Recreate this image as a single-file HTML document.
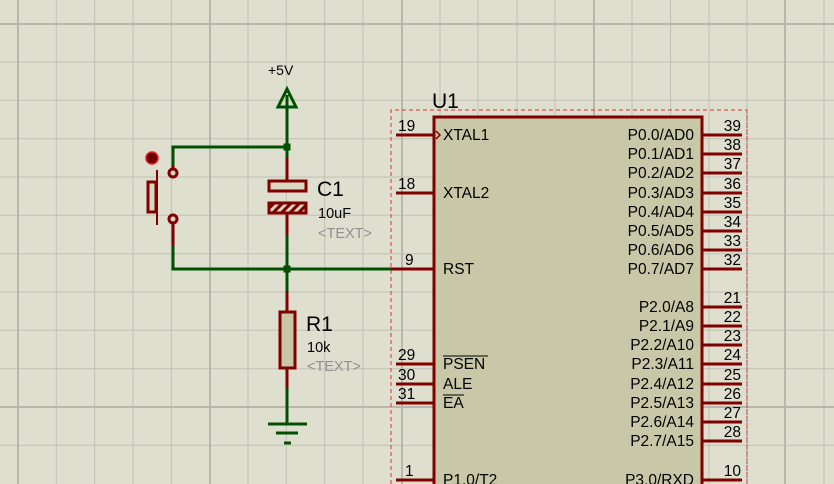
<!DOCTYPE html>
<html><head><meta charset="utf-8"><style>
html,body{margin:0;padding:0;background:#dfdfd0;}
svg{display:block}
text{font-family:"Liberation Sans",sans-serif;}
</style></head><body>
<svg width="834" height="484" viewBox="0 0 834 484" xmlns="http://www.w3.org/2000/svg">
<rect width="834" height="484" fill="#dfdfd0"/>
<g stroke="#c0c0b4" stroke-width="1">
<line x1="56.3" y1="0" x2="56.3" y2="484"/><line x1="94.7" y1="0" x2="94.7" y2="484"/><line x1="133" y1="0" x2="133" y2="484"/><line x1="171.3" y1="0" x2="171.3" y2="484"/>
<line x1="248" y1="0" x2="248" y2="484"/><line x1="286.3" y1="0" x2="286.3" y2="484"/><line x1="324.7" y1="0" x2="324.7" y2="484"/><line x1="363" y1="0" x2="363" y2="484"/>
<line x1="440" y1="0" x2="440" y2="484"/><line x1="478" y1="0" x2="478" y2="484"/><line x1="517" y1="0" x2="517" y2="484"/><line x1="555" y1="0" x2="555" y2="484"/>
<line x1="632" y1="0" x2="632" y2="484"/><line x1="670.5" y1="0" x2="670.5" y2="484"/><line x1="709" y1="0" x2="709" y2="484"/><line x1="747" y1="0" x2="747" y2="484"/>
<line x1="824" y1="0" x2="824" y2="484"/>
<line x1="0" y1="62" x2="834" y2="62"/><line x1="0" y1="100.3" x2="834" y2="100.3"/><line x1="0" y1="138.7" x2="834" y2="138.7"/><line x1="0" y1="177" x2="834" y2="177"/><line x1="0" y1="215.3" x2="834" y2="215.3"/><line x1="0" y1="253.7" x2="834" y2="253.7"/><line x1="0" y1="292" x2="834" y2="292"/><line x1="0" y1="330.3" x2="834" y2="330.3"/><line x1="0" y1="368.7" x2="834" y2="368.7"/><line x1="0" y1="445.3" x2="834" y2="445.3"/>
</g>
<g stroke="#b8b8aa" stroke-width="2">
<line x1="18" y1="0" x2="18" y2="484"/><line x1="210" y1="0" x2="210" y2="484"/><line x1="402" y1="0" x2="402" y2="484"/><line x1="594" y1="0" x2="594" y2="484"/><line x1="785" y1="0" x2="785" y2="484"/>
<line x1="0" y1="24" x2="834" y2="24"/><line x1="0" y1="407" x2="834" y2="407"/>
</g>
<path d="M391 484 V110 H747 V484" fill="none" stroke="#e03030" stroke-width="1" stroke-dasharray="4,3"/>
<line x1="747" y1="110" x2="747" y2="484" stroke="#a05060" stroke-dasharray="4,3"/>
<rect x="434" y="117" width="268" height="380" fill="#c8c8a8" stroke="#800000" stroke-width="3"/>
<text x="432" y="108" font-size="21">U1</text>
<g stroke="#800000" stroke-width="3">
<line x1="396" y1="135" x2="434" y2="135"/><line x1="396" y1="193" x2="434" y2="193"/><line x1="391" y1="269" x2="434" y2="269"/>
<line x1="396" y1="364" x2="434" y2="364"/><line x1="396" y1="384" x2="434" y2="384"/><line x1="396" y1="403" x2="434" y2="403"/><line x1="396" y1="480" x2="434" y2="480"/>
<line x1="702" y1="135" x2="742" y2="135"/><line x1="702" y1="154" x2="742" y2="154"/><line x1="702" y1="173" x2="742" y2="173"/><line x1="702" y1="193" x2="742" y2="193"/><line x1="702" y1="212" x2="742" y2="212"/><line x1="702" y1="231" x2="742" y2="231"/><line x1="702" y1="250" x2="742" y2="250"/><line x1="702" y1="269" x2="742" y2="269"/>
<line x1="702" y1="307" x2="742" y2="307"/><line x1="702" y1="326" x2="742" y2="326"/><line x1="702" y1="345" x2="742" y2="345"/><line x1="702" y1="364" x2="742" y2="364"/><line x1="702" y1="384" x2="742" y2="384"/><line x1="702" y1="403" x2="742" y2="403"/><line x1="702" y1="422" x2="742" y2="422"/><line x1="702" y1="441" x2="742" y2="441"/><line x1="702" y1="480" x2="742" y2="480"/>
</g>
<path d="M436 131 L440 135 L436 139" fill="none" stroke="#800000" stroke-width="1.5"/>
<g font-size="15.5" fill="#000">
<text x="398" y="131">19</text><text x="398" y="189">18</text><text x="405" y="265">9</text>
<text x="398" y="360">29</text><text x="398" y="380">30</text><text x="398" y="399">31</text><text x="405" y="476">1</text>
<text x="443" y="140">XTAL1</text><text x="443" y="198">XTAL2</text><text x="443" y="274">RST</text>
<text x="443" y="369">PSEN</text><text x="443" y="389">ALE</text><text x="443" y="408">EA</text>
<text x="443" y="485">P1.0/T2</text>
</g>
<line x1="443" y1="356" x2="488" y2="356" stroke="#000" stroke-width="1"/>
<line x1="443" y1="395" x2="464" y2="395" stroke="#000" stroke-width="1"/>
<g font-size="15.5" fill="#000" text-anchor="end">
<text x="694" y="140">P0.0/AD0</text><text x="694" y="159">P0.1/AD1</text><text x="694" y="178">P0.2/AD2</text><text x="694" y="198">P0.3/AD3</text><text x="694" y="217">P0.4/AD4</text><text x="694" y="236">P0.5/AD5</text><text x="694" y="255">P0.6/AD6</text><text x="694" y="274">P0.7/AD7</text>
<text x="694" y="312">P2.0/A8</text><text x="694" y="331">P2.1/A9</text><text x="694" y="350">P2.2/A10</text><text x="694" y="369">P2.3/A11</text><text x="694" y="389">P2.4/A12</text><text x="694" y="408">P2.5/A13</text><text x="694" y="427">P2.6/A14</text><text x="694" y="446">P2.7/A15</text>
<text x="694" y="485">P3.0/RXD</text>
<text x="741" y="131">39</text><text x="741" y="150">38</text><text x="741" y="169">37</text><text x="741" y="189">36</text><text x="741" y="208">35</text><text x="741" y="227">34</text><text x="741" y="246">33</text><text x="741" y="265">32</text>
<text x="741" y="303">21</text><text x="741" y="322">22</text><text x="741" y="341">23</text><text x="741" y="360">24</text><text x="741" y="380">25</text><text x="741" y="399">26</text><text x="741" y="418">27</text><text x="741" y="437">28</text><text x="741" y="476">10</text>
</g>
<g stroke="#005000" stroke-width="3" fill="none">
<line x1="287" y1="95" x2="287" y2="158"/>
<line x1="287" y1="235" x2="287" y2="291"/>
<line x1="287" y1="388" x2="287" y2="424"/>
<polyline points="173,166 173,147 287,147"/>
<polyline points="173,245 173,269 391,269"/>
<path d="M287 89 L278 107 L296 107 Z"/>
<line x1="268" y1="424" x2="307" y2="424"/><line x1="276" y1="433" x2="298" y2="433"/><line x1="284" y1="443" x2="291" y2="443"/>
</g>
<rect x="283.5" y="143.5" width="7" height="7" fill="#005000"/>
<rect x="283.5" y="265.5" width="7" height="7" fill="#005000"/>
<text x="268" y="75" font-size="14">+5V</text>
<g stroke="#800000" stroke-width="3">
<line x1="287" y1="158" x2="287" y2="180"/><line x1="287" y1="214" x2="287" y2="235"/>
<line x1="287" y1="291" x2="287" y2="311"/><line x1="287" y1="369" x2="287" y2="388"/>
<line x1="173" y1="166" x2="173" y2="170"/><line x1="173" y1="222" x2="173" y2="245"/>
</g>
<rect x="269" y="181" width="37" height="10" fill="#d8d8c0" stroke="#800000" stroke-width="3"/>
<defs><pattern id="h" width="6" height="6" patternUnits="userSpaceOnUse" patternTransform="rotate(45)"><rect width="6" height="6" fill="#d8d8c0"/><rect width="3" height="6" fill="#800000"/></pattern></defs>
<rect x="269" y="203" width="37" height="10" fill="url(#h)" stroke="#800000" stroke-width="3"/>
<text x="317" y="196" font-size="21">C1</text>
<text x="318" y="218" font-size="14.5">10uF</text>
<text x="318" y="238" font-size="14.5" fill="#909090">&lt;TEXT&gt;</text>
<rect x="280" y="312" width="15" height="56" fill="#c8c8a8" stroke="#800000" stroke-width="3"/>
<text x="306" y="331" font-size="21">R1</text>
<text x="307" y="352" font-size="14.5">10k</text>
<text x="307" y="371" font-size="14.5" fill="#909090">&lt;TEXT&gt;</text>
<circle cx="173" cy="173" r="4" fill="#d8d8c0" stroke="#800000" stroke-width="3"/>
<circle cx="173" cy="219" r="4" fill="#d8d8c0" stroke="#800000" stroke-width="3"/>
<rect x="148" y="182" width="8" height="30" fill="#d8d8c0" stroke="#800000" stroke-width="3"/>
<line x1="157" y1="170" x2="157" y2="225" stroke="#800000" stroke-width="2"/>
<circle cx="152" cy="158" r="6" fill="#700000" stroke="#e02020" stroke-width="1.5"/>
</svg>
</body></html>
